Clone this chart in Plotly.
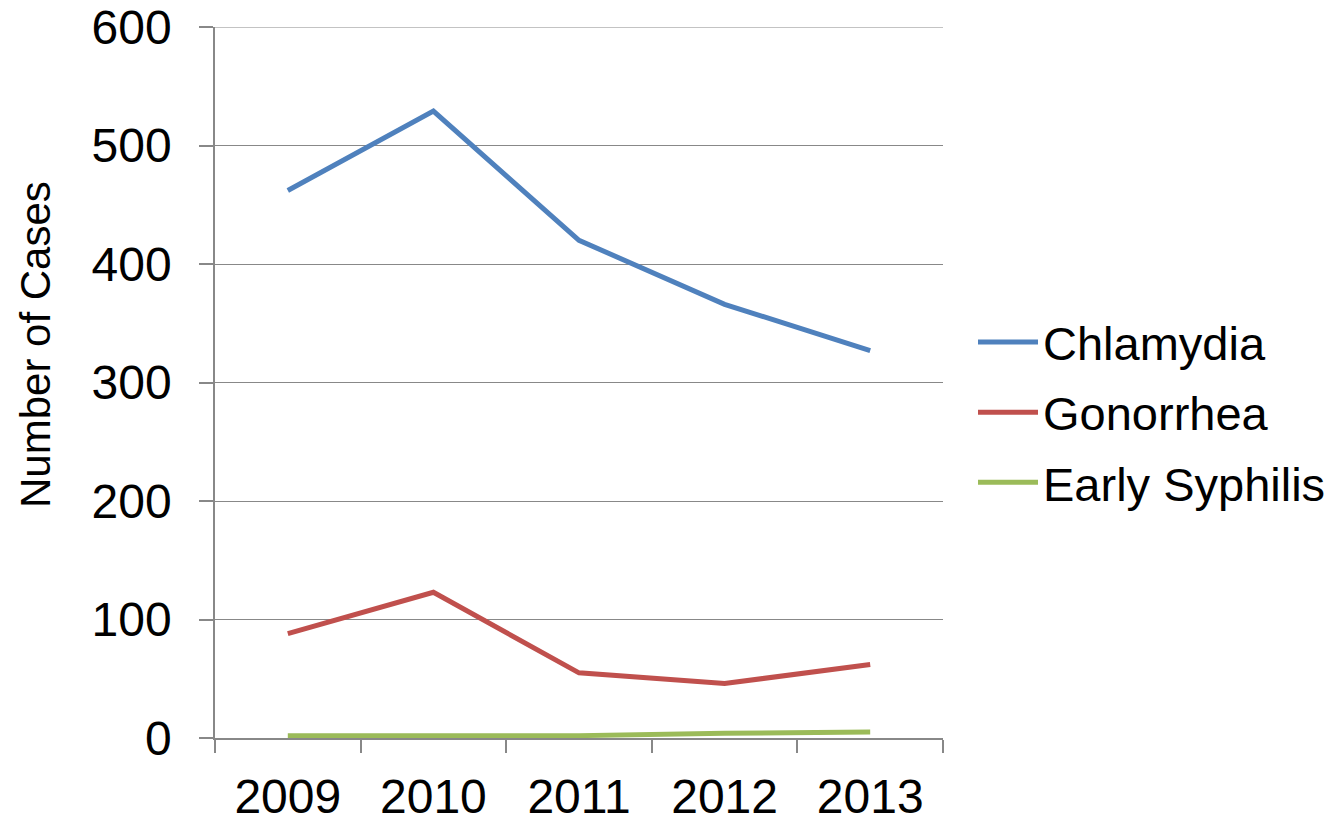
import plotly.graph_objects as go

years = ["2009", "2010", "2011", "2012", "2013"]
chlamydia = [462, 529, 420, 366, 327]
gonorrhea = [88, 123, 55, 46, 62]
early_syphilis = [2, 2, 2, 4, 5]
y_ticks = [0, 100, 200, 300, 400, 500, 600]

series = [
    ("Chlamydia", chlamydia, "#4F81BD"),
    ("Gonorrhea", gonorrhea, "#C0504D"),
    ("Early Syphilis", early_syphilis, "#9BBB59"),
]

fig = go.Figure()
for name, vals, color in series:
    fig.add_trace(go.Scatter(x=years, y=vals, name=name, mode="lines",
                             legendgroup=name,
                             line=dict(color=color, width=5)))

OFF = 8  # page body margin
W, H = 1334 - OFF, 818 - OFF
# plot box in screen pixels: x 215..943, y 27..738
L = 215 - OFF
T = 27 - OFF
R = W - (943 - OFF)
B = H - (738 - OFF)
PW, PH = W - L - R, H - T - B

def px_x(x):
    return (x - OFF - L) / PW

def px_y(y):
    return (H - B - (y - OFF)) / PH

GRID = "#888888"

fig.update_layout(
    width=W, height=H,
    margin=dict(l=L, r=R, t=T, b=B, pad=0, autoexpand=False),
    paper_bgcolor="white", plot_bgcolor="white",
    font=dict(family="Liberation Sans, Arial, sans-serif", color="black"),
    showlegend=True,
    legend=dict(x=px_x(973), xanchor="left", y=px_y(305), yanchor="top",
                font=dict(size=47), bgcolor="rgba(0,0,0,0)", tracegroupgap=6,
                itemwidth=60),
    xaxis=dict(type="category", tickson="boundaries", showgrid=False,
               ticks="outside", ticklen=13, tickcolor=GRID, tickwidth=1.5,
               showline=True, linecolor=GRID, linewidth=1.5,
               tickfont=dict(size=48), zeroline=False, range=[-0.5, 4.5],
               automargin=False, ticklabelstandoff=16),
    yaxis=dict(range=[0, 600], tickvals=y_ticks,
               showgrid=True, gridcolor=GRID, gridwidth=1.2,
               ticks="outside", ticklen=14, tickcolor=GRID, tickwidth=1.5,
               showline=True, linecolor=GRID, linewidth=1.5,
               tickfont=dict(size=48), zeroline=False,
               automargin=False, ticklabelstandoff=18,
               ticklabeloverflow="allow"),
)

# top gridline (plotly clips the gridline at the range end)
fig.add_shape(type="line", xref="paper", yref="y", x0=0, x1=1,
              y0=y_ticks[-1], y1=y_ticks[-1],
              line=dict(color=GRID, width=1.2), layer="below")

fig.add_annotation(text="Number of Cases", textangle=-90, showarrow=False,
                   xref="paper", yref="paper",
                   x=px_x(35), y=px_y(345),
                   xanchor="center", yanchor="middle", font=dict(size=42))

fig.write_html("out.html")
